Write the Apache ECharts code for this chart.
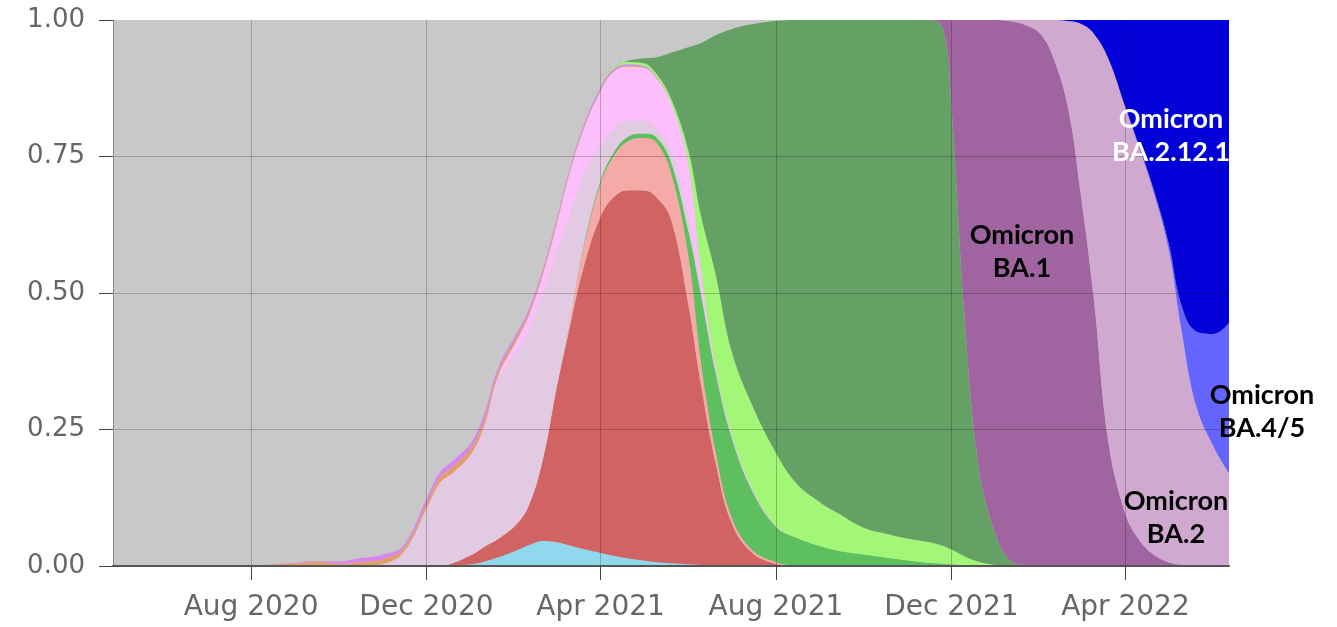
<!DOCTYPE html>
<html><head><meta charset="utf-8">
<script src="https://cdn.jsdelivr.net/npm/echarts@6/dist/echarts.min.js"></script>
<style>html,body{margin:0;padding:0;background:#fff}#c{width:1337px;height:627px}</style>
</head><body><div id="c"></div>
<script>
// ---- data (shares of sequences) ----
const dates = ['2020-04-27','2020-06-01','2020-07-01','2020-08-01','2020-09-01','2020-09-15','2020-10-01','2020-10-15','2020-11-01','2020-11-15',
 '2020-12-01','2020-12-10','2020-12-20','2021-01-01','2021-01-10','2021-01-20','2021-02-01','2021-02-10','2021-02-20','2021-03-01',
 '2021-03-10','2021-03-20','2021-04-01','2021-04-10','2021-04-20','2021-05-01','2021-05-10','2021-05-20','2021-06-01','2021-06-10',
 '2021-06-20','2021-07-01','2021-07-15','2021-08-01','2021-08-15','2021-09-01','2021-09-15','2021-10-01','2021-10-15','2021-11-01',
 '2021-11-15','2021-11-25','2021-12-01','2021-12-10','2021-12-20','2022-01-01','2022-01-10','2022-01-20','2022-02-01','2022-02-10',
 '2022-02-20','2022-03-01','2022-03-10','2022-03-20','2022-04-01','2022-04-10','2022-04-20','2022-05-01','2022-05-10','2022-05-20',
 '2022-06-01','2022-06-12'];

const lightBlue = [0,0,0,0,0,0,0,0,0,0,0,0,
 0.001,0.003,0.008,0.016,0.028,0.038,0.046,0.044,0.038,0.031,0.024,0.019,0.014,0.010,0.007,0.005,0.003,0.002,0.001,
 0,0,0,0,0,0,0,0,0,0,0,0,0,0,0,0,0,0,0,0,0,0,0,0,0,0,0,0,0,0,0];
const red = [0,0,0,0,0,0,0,0,0,0,0,0,
 0.005,0.017,0.027,0.034,0.047,0.072,0.15,0.276,0.392,0.514,0.616,0.656,0.674,0.678,0.668,0.63,0.477,0.328,0.189,0.08,0.025,0.004,
 0,0,0,0,0,0,0,0,0,0,0,0,0,0,0,0,0,0,0,0,0,0,0,0,0,0,0,0];
const salmon = [0,0,0,0,0,0,0,0,0,0,0,0,0,0,0,0,0,0,0,0,
 0.01,0.035,0.06,0.075,0.09,0.096,0.10,0.085,0.09,0.04,0.02,0.01,0.005,0.003,0.001,
 0,0,0,0,0,0,0,0,0,0,0,0,0,0,0,0,0,0,0,0,0,0,0,0,0,0,0];
const midGreen = [0,0,0,0,0,0,0,0,0,0,0,0,0,0,0,0,0,0,0,0,0,
 0.004,0.006,0.007,0.008,0.008,0.01,0.02,0.045,0.125,0.145,0.147,0.11,0.065,0.051,0.036,0.027,0.021,0.016,0.01,0.006,0.004,0.003,0.001,
 0,0,0,0,0,0,0,0,0,0,0,0,0,0,0,0,0,0];
const lavender = [0,0,0,0,0,0,0,0,
 0.004,0.025,0.103,0.148,0.162,0.18,0.215,0.29,0.315,0.32,0.304,0.25,0.2,0.131,0.064,0.043,0.029,0.024,0.015,0.02,0.025,0.01,0.007,0.004,0.002,0.001,
 0,0,0,0,0,0,0,0,0,0,0,0,0,0,0,0,0,0,0,0,0,0,0,0,0,0,0,0];
const pink = [0,0,0,0,0,0,0,0,0,0,
 0.002,0.003,0.004,0.005,0.006,0.01,0.02,0.028,0.035,0.05,0.075,0.083,0.1,0.105,0.1,0.097,0.093,0.088,0.1,0.035,0.006,0.004,0.003,0.001,
 0,0,0,0,0,0,0,0,0,0,0,0,0,0,0,0,0,0,0,0,0,0,0,0,0,0,0,0];
const orange = [0,0,0,
 0.001,0.005,0.008,0.004,0.007,0.009,0.007,0.009,0.01,0.011,0.011,0.012,0.008,0.007,0.006,0.005,0.005,0.003,0.003,0.002,0.001,0.001,0.001,0.001,
 0,0,0,0,0,0,0,0,0,0,0,0,0,0,0,0,0,0,0,0,0,0,0,0,0,0,0,0,0,0,0,0,0,0,0];
const magenta = [0,0,0,0,
 0.001,0.001,0.004,0.007,0.008,0.006,0.009,0.01,0.011,0.01,0.01,0.007,0.006,0.006,0.005,0.005,0.004,0.004,0.005,0.004,0.003,0.002,0.001,
 0,0,0,0,0,0,0,0,0,0,0,0,0,0,0,0,0,0,0,0,0,0,0,0,0,0,0,0,0,0,0,0,0,0,0];
const lightGreen = [0,0,0,0,0,0,0,0,0,0,0,0,0,0,0,0,0,0,0,0,0,0,0,
 0.002,0.004,0.005,0.006,0.008,0.022,0.1,0.167,0.15,0.152,0.133,0.10,0.08,0.067,0.049,0.044,0.04,0.038,0.033,0.027,0.017,0.008,0.002,
 0,0,0,0,0,0,0,0,0,0,0,0,0,0,0,0];
const delta = [0,0,0,0,0,0,0,0,0,0,0,0,0,0,0,0,0,0,0,0,0,0,0,0,
 0.002,0.009,0.031,0.084,0.188,0.318,0.437,0.588,0.695,0.791,0.848,0.884,0.906,0.93,0.94,0.95,0.956,0.948,0.81,0.442,0.172,0.053,0.012,0.002,
 0,0,0,0,0,0,0,0,0,0,0,0,0,0];
const ba1 = [0,0,0,0,0,0,0,0,0,0,0,0,0,0,0,0,0,0,0,0,0,0,0,0,0,0,0,0,0,0,0,0,0,0,0,0,0,0,0,0,0,
 0.015,0.16,0.54,0.82,0.945,0.986,0.99,0.974,0.93,0.84,0.68,0.49,0.23,0.095,0.05,0.022,0.007,0.002,
 0,0,0];
const ba2 = [0,0,0,0,0,0,0,0,0,0,0,0,0,0,0,0,0,0,0,0,0,0,0,0,0,0,0,0,0,0,0,0,0,0,0,0,0,0,0,0,0,0,0,0,0,0,
 0.002,0.008,0.026,0.07,0.158,0.313,0.485,0.70,0.745,0.72,0.668,0.573,0.43,0.295,0.22,0.17];
const ba45 = [0,0,0,0,0,0,0,0,0,0,0,0,0,0,0,0,0,0,0,0,0,0,0,0,0,0,0,0,0,0,0,0,0,0,0,0,0,0,0,0,0,0,0,0,0,0,0,0,0,0,0,0,0,0,0,
 0.003,0.005,0.012,0.045,0.135,0.205,0.275];
const ba2121 = [0,0,0,0,0,0,0,0,0,0,0,0,0,0,0,0,0,0,0,0,0,0,0,0,0,0,0,0,0,0,0,0,0,0,0,0,0,0,0,0,0,0,0,0,0,0,0,0,0,0,
 0.002,0.007,0.025,0.07,0.16,0.227,0.305,0.408,0.523,0.57,0.575,0.555];

const tickDates = ['2020-08-01','2020-12-01','2021-04-01','2021-08-01','2021-12-01','2022-04-01'];
const tickLabels = ['Aug 2020','Dec 2020','Apr 2021','Aug 2021','Dec 2021','Apr 2022'];
const axisStart = '2020-04-27', axisEnd = '2022-06-12';

const layers = [
  ['Eta', lightBlue, '#8fd8ee'],
  ['Alpha', red, '#d16363'],
  ['Alpha (other)', salmon, '#f6aaa7'],
  ['Gamma', midGreen, '#5ebf5e'],
  ['B.1.2', lavender, '#e2cbe2'],
  ['Epsilon', pink, '#fcbffc'],
  ['B.1.1.519', orange, '#dea266'],
  ['Iota', magenta, '#d786ef'],
  ['Delta (other)', lightGreen, '#a3f777'],
  ['Delta', delta, '#65a165'],
  ['Omicron BA.1', ba1, '#a065a0'],
  ['Omicron BA.2', ba2, '#d0a9d0'],
  ['Omicron BA.4/5', ba45, '#6464ff'],
  ['Omicron BA.2.12.1', ba2121, '#0202d8']
];

// ---- chart ----
function ts(s){ const p = s.split('-').map(Number); return Date.UTC(p[0], p[1]-1, p[2]); }
const tickTs = tickDates.map(ts);
const labelFont = 'DejaVu Sans';

const chart = echarts.init(document.getElementById('c'), null, {renderer:'canvas'});
chart.setOption({
  animation: false,
  grid: {left: 113, right: 108, top: 20, bottom: 61, containLabel: false, outerBoundsMode: 'none',
         show: true, backgroundColor: '#c8c8c8', borderWidth: 0},
  xAxis: [
    { // time axis carrying the data
      type: 'time', min: ts(axisStart), max: ts(axisEnd), show: false
    },
    { // same range, drawn with the reference's tick dates
      type: 'value', min: ts(axisStart), max: ts(axisEnd), position: 'bottom', z: 10,
      axisLine: {show: true, onZero: false, lineStyle: {color: '#555', width: 2}},
      axisTick: {show: true, length: 14, customValues: tickTs, lineStyle: {color: '#444', width: 1}},
      axisLabel: {customValues: tickTs, margin: 28, color: '#666', fontSize: 28, fontFamily: labelFont,
        formatter: v => { const i = tickTs.indexOf(v); return i >= 0 ? tickLabels[i] : ''; }},
      splitLine: {show: true, lineStyle: {color: 'rgba(0,0,0,0.22)', width: 1}}
    }
  ],
  yAxis: {
    type: 'value', min: 0, max: 1, interval: 0.25, z: 10,
    axisLine: {show: true, lineStyle: {color: '#888', width: 1}},
    axisTick: {show: true, length: 14, lineStyle: {color: '#444', width: 1}},
    axisLabel: {margin: 28, color: '#666', fontSize: 26, fontFamily: labelFont, formatter: v => v.toFixed(2)},
    splitLine: {show: true, showMinLine: false, showMaxLine: false, lineStyle: {color: 'rgba(0,0,0,0.22)', width: 1}}
  },
  series: layers.map(([name, vals, color]) => ({
    name, type: 'line', stack: 'share', xAxisIndex: 0, smooth: 0.4,
    showSymbol: false, symbol: 'none',
    lineStyle: {width: 0}, areaStyle: {color, opacity: 1}, itemStyle: {color},
    data: dates.map((d, i) => [ts(d), vals[i]])
  })),
  graphic: {elements: [
    {type: 'text', z: 100, style: {text: 'Omicron\nBA.1', x: 1022, y: 252, align: 'center', verticalAlign: 'middle',
      font: 'bold 27px Lato', lineHeight: 33, fill: '#000'}},
    {type: 'text', z: 100, style: {text: 'Omicron\nBA.2.12.1', x: 1171, y: 136, align: 'center', verticalAlign: 'middle',
      font: 'bold 27px Lato', lineHeight: 33, fill: '#fff'}},
    {type: 'text', z: 100, style: {text: 'Omicron\nBA.4/5', x: 1262, y: 412, align: 'center', verticalAlign: 'middle',
      font: 'bold 27px Lato', lineHeight: 33, fill: '#000'}},
    {type: 'text', z: 100, style: {text: 'Omicron\nBA.2', x: 1176, y: 518, align: 'center', verticalAlign: 'middle',
      font: 'bold 27px Lato', lineHeight: 33, fill: '#000'}}
  ]}
});
</script></body></html>
